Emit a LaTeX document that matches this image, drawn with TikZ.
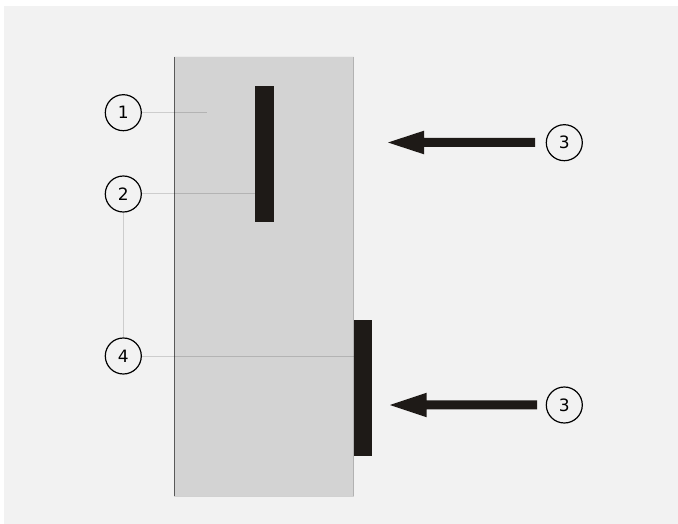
\documentclass[tikz,border=0pt]{standalone}
\usepackage{fontspec}
\setmainfont{DejaVu Sans}
\begin{document}
\begin{tikzpicture}[x=1pt,y=-1pt,
  num/.style={circle,draw=black,line width=1.2pt,minimum size=36pt,inner sep=0pt,font=\fontsize{17}{17}\selectfont},
  leader/.style={draw=black,draw opacity=0.15,line width=1pt},
  barbox/.style={fill=barc,draw=none,inner sep=0pt,outer sep=0pt}]
\definecolor{bg}{HTML}{F2F2F2}
\definecolor{blk}{HTML}{D3D3D3}
\definecolor{barc}{HTML}{1E1A17}
\useasboundingbox (0,0) rectangle (678,524);
\fill[white] (0,0) rectangle (678,524);
\fill[bg] (4,6) rectangle (690,536);
% block
\fill[blk] (174,56) rectangle (354,497);
\draw[color=black!65,line width=1.2pt] (174.5,56) -- (174.5,497);
\draw[color=black!30,line width=1.2pt] (353.5,56) -- (353.5,497);
\draw[color=black!18,line width=1pt] (174,496.5) -- (354,496.5);
\draw[color=black!8,line width=1pt] (174,56.5) -- (354,56.5);
% bars
\node[barbox,minimum width=19pt,minimum height=136pt] (bar1) at (264.5,154) {};
\node[barbox,minimum width=18pt,minimum height=136pt] (bar2) at (363,388) {};
\coordinate (p1) at (207,112.7);
\coordinate (p4) at (354,356);
% numbered circles
\node[num] (n1) at (123.3,112.7) {1};
\node[num] (n2) at (123.3,194) {2};
\node[num] (n4) at (123.3,356) {4};
\node[num] (n3a) at (564.3,142.7) {3};
\node[num] (n3b) at (564.3,405) {3};
% leaders
\draw[leader] (n1.east) -- (p1);
\draw[leader] (n2.east) -- (n2.east -| bar1.west);
\draw[leader] (n4.east) -- (p4);
\draw[leader] (n2.south) -- (n4.north);
% arrows
\fill[barc] (535,138) -- (424,138) -- (424,130.7) -- (388,142.5) -- (424,154.3) -- (424,147) -- (535,147) -- cycle;
\fill[barc] (537,400.3) -- (426.7,400.3) -- (426.7,392.7) -- (390,405) -- (426.7,417.3) -- (426.7,409.3) -- (537,409.3) -- cycle;
\end{tikzpicture}
\end{document}
